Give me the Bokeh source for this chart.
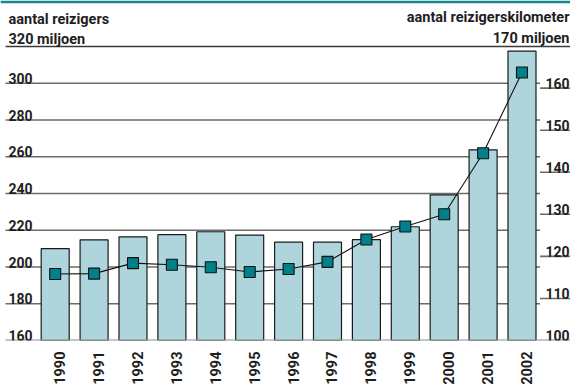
from bokeh.plotting import figure
from bokeh.models import Range1d, LinearAxis, FixedTicker
from bokeh.core.properties import value
from bokeh.embed import file_html
from bokeh.resources import INLINE
import math

# ---- data ----
years = [1990, 1991, 1992, 1993, 1994, 1995, 1996, 1997, 1998, 1999, 2000, 2001, 2002]
year_labels = {y: str(y) for y in years}
reizigers = [210.0, 214.8, 216.4, 217.6, 219.2, 217.4, 213.5, 213.5, 214.9, 221.9, 239.3, 263.8, 317.5]       # miljoen (links)
reizigerskm = [115.8, 115.9, 118.4, 118.0, 117.4, 116.3, 117.0, 118.7, 124.0, 127.1, 130.0, 144.5, 163.7]   # (rechts)

left_ticks = [160, 180, 200, 220, 240, 260, 280, 300]
left_grid = [180, 200, 220, 240, 260, 280, 300]
left_top = 320
right_ticks = [100, 110, 120, 130, 140, 150, 160]
right_grid = [110, 120, 130, 140, 150, 160]
right_top = 170

left_title = "aantal reizigers"
left_unit = "320 miljoen"
right_title = "aantal reizigerskilometer"
right_unit = "170 miljoen"

# ---- layout ----
W, H = 570, 387
X0, X1 = 1988.594, 2003.247
XL = 1988.723   # left end of the rules
XG = 2002.463   # end of the left grid / start of right tick rules
Y0, Y1 = 160, 345.05
R0, R1 = 100, 180.83
FONT = "Roboto"
TXT = "#1e1e1e"
GRID = "#6b6b6b"

p = figure(width=W, height=H, output_backend="svg", toolbar_location=None,
           x_range=Range1d(X0, X1), y_range=Range1d(Y0, Y1),
           x_axis_type=None, y_axis_type=None,
           min_border_left=0, min_border_right=0, min_border_top=0, min_border_bottom=40,
           outline_line_color=None, background_fill_color="white", border_fill_color="white")
p.extra_y_ranges = {"km": Range1d(R0, R1)}
p.extra_x_ranges = {"lbl": Range1d(X0 - 0.115, X1 - 0.115)}

# top teal strip
p.quad(left=[X0], right=[X1], top=[Y1], bottom=[Y1 - 1.5], fill_color="#17868f", line_color=None)

# grid lines (left) and short tick rules (right)
p.segment(x0=[XL] * len(left_grid), x1=[XG] * len(left_grid), y0=left_grid, y1=left_grid,
          line_color=GRID, line_width=1.6)
p.segment(x0=[XG] * len(right_grid), x1=[X1] * len(right_grid), y0=right_grid, y1=right_grid,
          line_color=GRID, line_width=1.6, y_range_name="km")
# top rule
p.segment(x0=[XL], x1=[X1], y0=[left_top], y1=[left_top], line_color="#3a3a3a", line_width=1.6)

# bars
p.vbar(x=years, top=reizigers, bottom=left_ticks[0], width=0.72,
       fill_color="#afd5dc", line_color="#1a1a1a", line_width=1.2)
# bottom rule
p.segment(x0=[XL], x1=[X1], y0=[left_ticks[0]], y1=[left_ticks[0]], line_color="#8c8c8c", line_width=2.2)

# line + markers
p.line(x=years, y=reizigerskm, line_color="#111111", line_width=1.1, y_range_name="km")
p.scatter(x=years, y=reizigerskm, marker="square", size=11, fill_color="#00808b",
          line_color="#111111", line_width=1.1, y_range_name="km")

# tick labels
p.text(x=[X0] * len(left_ticks), y=left_ticks, text=[str(t) for t in left_ticks],
       x_offset=8, y_offset=-5, text_baseline="alphabetic", text_align="left",
       text_font=value(FONT), text_font_style="bold", text_font_size="14px", text_color=TXT)
p.text(x=[X1] * len(right_ticks), y=right_ticks, text=[str(t) for t in right_ticks],
       x_offset=-1, y_offset=-5, text_baseline="alphabetic", text_align="right",
       text_font=value(FONT), text_font_style="bold", text_font_size="14px", text_color=TXT,
       y_range_name="km")

# titles
p.text(x=[X0, X0], y=[left_top, left_top], text=[left_title, left_unit],
       x_offset=8, y_offset=[-27, -7], text_baseline="alphabetic", text_align="left",
       text_font=value(FONT), text_font_style="bold", text_font_size="14.5px", text_color=TXT)
p.text(x=[X1, X1], y=[right_top, right_top], text=[right_title, right_unit],
       x_offset=-1, y_offset=[-29, -8], text_baseline="alphabetic", text_align="right",
       text_font=value(FONT), text_font_style="bold", text_font_size="14.5px", text_color=TXT,
       y_range_name="km")

# year axis
ax = LinearAxis(x_range_name="lbl", ticker=FixedTicker(ticks=years),
                major_label_overrides=year_labels, major_label_orientation=math.pi / 2,
                axis_line_color=None, major_tick_line_color=None, minor_tick_line_color=None,
                major_label_standoff=5, major_label_text_font=FONT,
                major_label_text_font_style="bold", major_label_text_font_size="14.5px",
                major_label_text_color=TXT)
p.add_layout(ax, "below")

open("out.html", "w").write(file_html(p, INLINE))
